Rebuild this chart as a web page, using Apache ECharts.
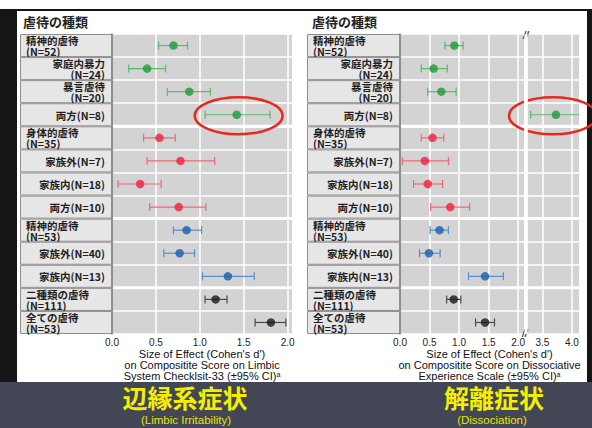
<!DOCTYPE html>
<html><head><meta charset="utf-8">
<script src="https://cdn.jsdelivr.net/npm/echarts@6.0.0/dist/echarts.min.js"></script>
<style>
html,body{margin:0;padding:0;width:592px;height:428px;overflow:hidden;background:#434655;}
#topband{position:absolute;left:0;top:0;width:592px;height:9px;background:#fff;}
#frame{position:absolute;left:0;top:9px;width:592px;height:373px;background:#151515;}
#panel{position:absolute;left:17px;top:11px;width:570px;height:371px;background:#fff;}
#chart{position:absolute;left:0;top:0;width:592px;height:428px;}
</style></head>
<body>
<div id="topband"></div><div id="frame"></div><div id="panel"></div>
<div id="chart"></div>
<script>
// ---- data ----
const categories = ['精神的虐待\n(N=52)', '家庭内暴力\n(N=24)', '暴言虐待\n(N=20)', '両方(N=8)',
  '身体的虐待\n(N=35)', '家族外(N=7)', '家族内(N=18)', '両方(N=10)',
  '精神的虐待\n(N=53)', '家族外(N=40)', '家族内(N=13)',
  '二種類の虐待\n(N=111)', '全ての虐待\n(N=53)'];
const isHeader = [true, false, false, false, true, false, false, false, true, false, false, true, true];
const groupIndex = [0, 0, 0, 0, 1, 1, 1, 1, 2, 2, 2, 3, 3];
const limbicD    = [0.70, 0.40, 0.88, 1.42, 0.54, 0.78, 0.32, 0.76, 0.85, 0.77, 1.32, 1.18, 1.81];
const limbicLow  = [0.53, 0.19, 0.63, 1.06, 0.36, 0.40, 0.07, 0.43, 0.70, 0.59, 1.03, 1.06, 1.63];
const limbicHigh = [0.86, 0.61, 1.12, 1.80, 0.72, 1.17, 0.56, 1.07, 1.02, 0.94, 1.62, 1.31, 1.98];
const dissocD    = [0.92, 0.57, 0.70, 3.73, 0.55, 0.42, 0.47, 0.85, 0.67, 0.49, 1.44, 0.91, 1.44];
const dissocLow  = [0.76, 0.36, 0.47, 3.30, 0.36, 0.04, 0.23, 0.52, 0.51, 0.33, 1.16, 0.79, 1.28];
const dissocHigh = [1.07, 0.80, 0.95, 4.20, 0.74, 0.82, 0.72, 1.18, 0.82, 0.68, 1.75, 1.03, 1.60];
const limbicTicks = [0, 0.5, 1.0, 1.5, 2.0];
const dissocTicks = [0, 0.5, 1.0, 1.5, 2.0, 3.5, 4.0];
const dissocBreak = [2.1, 3.25];
const highlightRow = 3;
const panelTitle = '虐待の種類';
const limbicAxisName = "Size of Effect (Cohen's d')\non Compositite Score on Limbic\nSystem Checklsit-33 (±95% CI){sup|a}";
const dissocAxisName = "Size of Effect (Cohen's d')\non Compositite Score on Dissociative\nExperience Scale (±95% CI){sup|a}";
const limbicTitle = '辺縁系症状', limbicSub = '(Limbic Irritability)';
const dissocTitle = '解離症状', dissocSub = '(Dissociation)';

// ---- styles ----
const dotColors = ['#1e9a3b', '#f2203e', '#1c5ead', '#1a1a1a'];
const barColors = ['#5cb96d', '#f0687a', '#5a8fcd', '#4a4a4a'];
const JP = '"Noto Sans CJK JP", sans-serif';
const EN = '"Liberation Sans", Arial, sans-serif';

const groupStarts = [];
groupIndex.forEach((g, i) => { if (i > 0 && g !== groupIndex[i - 1]) groupStarts.push(i); });

const chart = echarts.init(document.getElementById('chart'), null, {renderer: 'svg'});

function labelSeries(xi) {
  return {
    type: 'custom', xAxisIndex: xi, yAxisIndex: xi, silent: true,
    data: categories.map((c, i) => [0, i]),
    encode: {x: 0, y: 1},
    renderItem(params, api) {
      const i = params.dataIndex;
      const cs = params.coordSys;
      const yc = api.coord([0, i])[1];
      const h = api.size([0, 1])[1];
      const top = yc - h / 2;
      return {type: 'group', children: [
        {type: 'rect', shape: {x: cs.x + 0.5, y: top + 0.5, width: cs.width - 1, height: h - 1},
          style: {fill: '#e6e6e6', stroke: '#8e8e8e', lineWidth: 1}},
        {type: 'text', style: {text: categories[i], x: isHeader[i] ? cs.x + 6 : cs.x + cs.width - 7, y: yc + 0.5,
          align: isHeader[i] ? 'left' : 'right', verticalAlign: 'middle',
          fontSize: 10.5, lineHeight: 11, fontWeight: 'bold', fontFamily: JP, fill: '#1e1e1e'}}
      ]};
    }
  };
}
function sepSeries(xi) {
  return {
    type: 'custom', xAxisIndex: xi, yAxisIndex: xi, silent: true, z: 2,
    data: groupStarts.map(i => [0, i]), encode: {x: 0, y: 1},
    renderItem(params, api) {
      const cs = params.coordSys;
      const i = api.value(1);
      const y = api.coord([0, i])[1] - api.size([0, 1])[1] / 2;
      return {type: 'rect', shape: {x: cs.x + 1, y: y - 1.5, width: cs.width - 1, height: 3}, style: {fill: '#ffffff'}};
    }
  };
}
function errSeries(xi, low, high) {
  return {
    type: 'custom', xAxisIndex: xi, yAxisIndex: xi, silent: true, z: 3, clip: true,
    data: low.map((l, i) => [l, high[i], i]), encode: {x: [0, 1], y: 2},
    renderItem(params, api) {
      const i = params.dataIndex;
      const a = api.coord([api.value(0), i]);
      const b = api.coord([api.value(1), i]);
      const c = barColors[groupIndex[i]];
      const st = {stroke: c, lineWidth: 1.2};
      return {type: 'group', children: [
        {type: 'line', shape: {x1: a[0], y1: a[1], x2: b[0], y2: b[1]}, style: st},
        {type: 'line', shape: {x1: a[0], y1: a[1] - 4, x2: a[0], y2: a[1] + 4}, style: st},
        {type: 'line', shape: {x1: b[0], y1: b[1] - 4, x2: b[0], y2: b[1] + 4}, style: st}
      ]};
    }
  };
}
function dotSeries(xi, vals) {
  return {
    type: 'scatter', xAxisIndex: xi, yAxisIndex: xi, z: 4, symbolSize: 8.5, silent: true,
    data: vals.map((v, i) => ({value: [v, i], itemStyle: {color: dotColors[groupIndex[i]]}}))
  };
}
function ellipseSeries(xi, vals, dx) {
  return {
    type: 'custom', xAxisIndex: xi, yAxisIndex: xi, silent: true, z: 10, clip: false,
    data: [[vals[highlightRow], highlightRow]], encode: {x: 0, y: 1},
    renderItem(params, api) {
      const p = api.coord([api.value(0), api.value(1)]);
      return {type: 'ellipse', shape: {cx: p[0] + dx, cy: p[1] + 1, rx: 44, ry: 18.5},
        style: {fill: 'none', stroke: '#e8281c', lineWidth: 2.5}};
    }
  };
}
const fmtTick = v => (Math.abs(v * 2 - Math.round(v * 2)) < 1e-6 ? v.toFixed(1) : '');
function plotX(gi, max, name, ticks, extra) {
  return Object.assign({
    gridIndex: gi, type: 'value', min: 0, max: max, interval: 0.5,
    axisLine: {show: false},
    axisTick: {show: false, customValues: ticks},
    splitLine: {show: true, lineStyle: {color: '#ffffff', width: 1.5}},
    axisLabel: {customValues: ticks, formatter: fmtTick, fontSize: 10, color: '#222', margin: 3,
      fontFamily: EN, hideOverlap: false},
    name: name, nameLocation: 'middle', nameGap: 15, nameMoveOverlap: false,
    nameTextStyle: {fontSize: 11, color: '#111', fontFamily: EN, lineHeight: 10.8, align: 'center',
      verticalAlign: 'top',
      rich: {sup: {fontSize: 7, fontFamily: EN, color: '#111', verticalAlign: 'top', padding: [0, 0, 4, 0]}}}
  }, extra || {});
}
function plotY(gi) {
  return {gridIndex: gi, type: 'category', data: categories, inverse: true,
    axisLabel: {show: false}, axisTick: {show: false},
    axisLine: {show: true, lineStyle: {color: '#6a6a6a', width: 1.5}},
    splitLine: {show: true, lineStyle: {color: '#ffffff', width: 1.5}}};
}
const hiddenX = gi => ({gridIndex: gi, type: 'value', min: 0, max: 1, show: false});
const hiddenY = gi => ({gridIndex: gi, type: 'category', data: categories, inverse: true, show: false});

const plotGrid = {show: true, backgroundColor: '#d3d3d3', borderWidth: 0, top: 34, height: 300};

const option = {
  animation: false,
  grid: [
    {left: 20, top: 34, width: 92, height: 300},
    Object.assign({left: 112, width: 180}, plotGrid),
    {left: 307, top: 34, width: 93, height: 300},
    Object.assign({left: 400, width: 179}, plotGrid)
  ],
  xAxis: [
    hiddenX(0),
    plotX(1, 2.05, limbicAxisName, limbicTicks),
    hiddenX(2),
    plotX(3, 4.12, dissocAxisName, dissocTicks, {
      breaks: [{start: dissocBreak[0], end: dissocBreak[1], gap: '2%'}],
      breakArea: {show: true, itemStyle: {color: '#ffffff', borderColor: '#ffffff', borderWidth: 0, opacity: 1},
        zigzagAmplitude: 0, expandOnClick: false},
      breakLabelLayout: {moveOverlap: false}
    })
  ],
  yAxis: [hiddenY(0), plotY(1), hiddenY(2), plotY(3)],
  title: [
    {text: panelTitle, left: 23, top: 15, padding: 0, textStyle: {fontSize: 13, fontWeight: 'bold', color: '#222', fontFamily: JP}},
    {text: panelTitle, left: 312, top: 15, padding: 0, textStyle: {fontSize: 13, fontWeight: 'bold', color: '#222', fontFamily: JP}}
  ],
  graphic: [
    {type: 'text', x: 185, y: 397, z: 100, style: {text: limbicTitle, align: 'center', verticalAlign: 'middle',
      fontSize: 25, fontWeight: 'bold', fontFamily: JP, fill: '#f4ef00', shadowColor: 'rgba(0,0,0,0.7)', shadowBlur: 2}},
    {type: 'text', x: 186, y: 420, z: 101, style: {text: limbicSub, align: 'center', verticalAlign: 'middle',
      fontSize: 11.5, fontFamily: EN, fill: '#e8e400', shadowColor: 'rgba(0,0,0,0.8)', shadowBlur: 2}},
    {type: 'text', x: 494, y: 397, z: 100, style: {text: dissocTitle, align: 'center', verticalAlign: 'middle',
      fontSize: 25, fontWeight: 'bold', fontFamily: JP, fill: '#f4ef00', shadowColor: 'rgba(0,0,0,0.7)', shadowBlur: 2}},
    {type: 'text', x: 492, y: 420, z: 101, style: {text: dissocSub, align: 'center', verticalAlign: 'middle',
      fontSize: 11.5, fontFamily: EN, fill: '#e8e400', shadowColor: 'rgba(0,0,0,0.8)', shadowBlur: 2}}
  ],
  series: [
    labelSeries(0), labelSeries(2),
    sepSeries(1), sepSeries(3),
    errSeries(1, limbicLow, limbicHigh), errSeries(3, dissocLow, dissocHigh),
    dotSeries(1, limbicD), dotSeries(3, dissocD),
    ellipseSeries(1, limbicD, 2), ellipseSeries(3, dissocD, -3),
    {
      type: 'custom', xAxisIndex: 3, yAxisIndex: 3, silent: true, z: 12, clip: false,
      data: [dissocBreak], encode: {x: [0, 1]},
      renderItem(params, api) {
        const cs = params.coordSys;
        const xa = api.coord([api.value(0), 0])[0];
        const xb = api.coord([api.value(1), 0])[0];
        const xm = (xa + xb) / 2;
        const st = {text: '//', align: 'center', verticalAlign: 'middle', fontSize: 10, fontWeight: 'bold',
          fontStyle: 'italic', fontFamily: EN, fill: '#444'};
        return {type: 'group', children: [
          {type: 'rect', shape: {x: Math.min(xa, xb), y: cs.y, width: Math.max(Math.abs(xb - xa), 3), height: cs.height},
            style: {fill: '#ffffff'}},
          {type: 'text', style: Object.assign({x: xm, y: cs.y + 1}, st)},
          {type: 'text', style: Object.assign({x: xm - 1, y: cs.y + cs.height - 1}, st)}
        ]};
      }
    }
  ]
};
chart.setOption(option);
</script>
</body></html>
